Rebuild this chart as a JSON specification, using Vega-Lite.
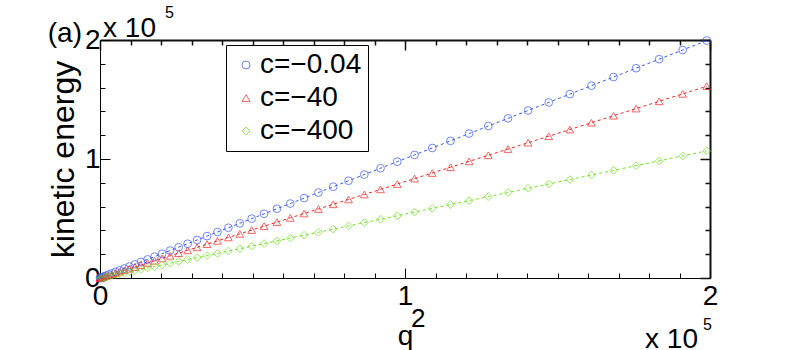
{
  "$schema": "https://vega.github.io/schema/vega-lite/v6.json",
  "width": 610,
  "height": 238,
  "autosize": "none",
  "padding": {"left": 100, "top": 40, "right": 79, "bottom": 72},
  "background": "white",
  "config": {
    "font": "Liberation Sans",
    "view": {"stroke": null},
    "axis": {
      "grid": false,
      "domainColor": "black",
      "domainWidth": 1,
      "tickColor": "black",
      "tickWidth": 1,
      "labelColor": "black",
      "labelFont": "Liberation Sans",
      "labelFontSize": 28,
      "titleFont": "Liberation Sans",
      "titleFontSize": 28,
      "titleFontWeight": "normal",
      "titleColor": "black",
      "labelFlush": false,
      "labelOverlap": false
    }
  },
  "datasets": {
    "ke": [
      {"q2": 0, "s1": 0, "s2": 0, "s3": 0},
      {"q2": 0.0008, "s1": 0.0008, "s2": 0.0006, "s3": 0.0004},
      {"q2": 0.0032, "s1": 0.0032, "s2": 0.0026, "s3": 0.0017},
      {"q2": 0.0072, "s1": 0.0072, "s2": 0.0058, "s3": 0.0039},
      {"q2": 0.0127, "s1": 0.0127, "s2": 0.0103, "s3": 0.0068},
      {"q2": 0.0199, "s1": 0.0200, "s2": 0.0161, "s3": 0.0107},
      {"q2": 0.0286, "s1": 0.0287, "s2": 0.0232, "s3": 0.0154},
      {"q2": 0.0390, "s1": 0.0391, "s2": 0.0316, "s3": 0.0209},
      {"q2": 0.0509, "s1": 0.0511, "s2": 0.0412, "s3": 0.0273},
      {"q2": 0.0645, "s1": 0.0647, "s2": 0.0522, "s3": 0.0346},
      {"q2": 0.0796, "s1": 0.0798, "s2": 0.0645, "s3": 0.0427},
      {"q2": 0.0963, "s1": 0.0966, "s2": 0.0780, "s3": 0.0517},
      {"q2": 0.1146, "s1": 0.1149, "s2": 0.0928, "s3": 0.0615},
      {"q2": 0.1345, "s1": 0.1349, "s2": 0.1089, "s3": 0.0722},
      {"q2": 0.1560, "s1": 0.1565, "s2": 0.1264, "s3": 0.0838},
      {"q2": 0.1790, "s1": 0.1795, "s2": 0.1450, "s3": 0.0961},
      {"q2": 0.2037, "s1": 0.2043, "s2": 0.1650, "s3": 0.1094},
      {"q2": 0.2300, "s1": 0.2307, "s2": 0.1863, "s3": 0.1235},
      {"q2": 0.2578, "s1": 0.2586, "s2": 0.2088, "s3": 0.1384},
      {"q2": 0.2872, "s1": 0.2881, "s2": 0.2326, "s3": 0.1542},
      {"q2": 0.3183, "s1": 0.3193, "s2": 0.2578, "s3": 0.1709},
      {"q2": 0.3509, "s1": 0.3520, "s2": 0.2842, "s3": 0.1884},
      {"q2": 0.3851, "s1": 0.3863, "s2": 0.3119, "s3": 0.2068},
      {"q2": 0.4209, "s1": 0.4222, "s2": 0.3409, "s3": 0.2260},
      {"q2": 0.4583, "s1": 0.4597, "s2": 0.3712, "s3": 0.2461},
      {"q2": 0.4973, "s1": 0.4988, "s2": 0.4028, "s3": 0.2671},
      {"q2": 0.5379, "s1": 0.5395, "s2": 0.4357, "s3": 0.2889},
      {"q2": 0.5801, "s1": 0.5818, "s2": 0.4699, "s3": 0.3115},
      {"q2": 0.6238, "s1": 0.6257, "s2": 0.5053, "s3": 0.3350},
      {"q2": 0.6692, "s1": 0.6712, "s2": 0.5421, "s3": 0.3594},
      {"q2": 0.7161, "s1": 0.7182, "s2": 0.5800, "s3": 0.3845},
      {"q2": 0.7647, "s1": 0.7670, "s2": 0.6194, "s3": 0.4106},
      {"q2": 0.8148, "s1": 0.8172, "s2": 0.6600, "s3": 0.4375},
      {"q2": 0.8665, "s1": 0.8691, "s2": 0.7019, "s3": 0.4653},
      {"q2": 0.9198, "s1": 0.9226, "s2": 0.7450, "s3": 0.4939},
      {"q2": 0.9747, "s1": 0.9776, "s2": 0.7895, "s3": 0.5234},
      {"q2": 1.0312, "s1": 1.0343, "s2": 0.8353, "s3": 0.5538},
      {"q2": 1.0893, "s1": 1.0926, "s2": 0.8823, "s3": 0.5850},
      {"q2": 1.1490, "s1": 1.1524, "s2": 0.9307, "s3": 0.6170},
      {"q2": 1.2103, "s1": 1.2139, "s2": 0.9803, "s3": 0.6499},
      {"q2": 1.2731, "s1": 1.2769, "s2": 1.0312, "s3": 0.6837},
      {"q2": 1.3376, "s1": 1.3416, "s2": 1.0835, "s3": 0.7183},
      {"q2": 1.4036, "s1": 1.4078, "s2": 1.1369, "s3": 0.7537},
      {"q2": 1.4713, "s1": 1.4757, "s2": 1.1918, "s3": 0.7901},
      {"q2": 1.5405, "s1": 1.5451, "s2": 1.2478, "s3": 0.8272},
      {"q2": 1.6113, "s1": 1.6161, "s2": 1.3052, "s3": 0.8653},
      {"q2": 1.6837, "s1": 1.6888, "s2": 1.3638, "s3": 0.9041},
      {"q2": 1.7577, "s1": 1.7630, "s2": 1.4237, "s3": 0.9439},
      {"q2": 1.8333, "s1": 1.8388, "s2": 1.4850, "s3": 0.9845},
      {"q2": 1.9105, "s1": 1.9162, "s2": 1.5475, "s3": 1.0259},
      {"q2": 1.9893, "s1": 1.9953, "s2": 1.6113, "s3": 1.0683}
    ],
    "one": [{"k": 1}]
  },
  "resolve": {"axis": {"x": "independent", "y": "independent"}},
  "layer": [
    {
      "data": {"name": "ke"},
      "transform": [{"fold": ["s1", "s2", "s3"], "as": ["series", "ke"]}],
      "mark": {"type": "line", "strokeDash": [3, 3], "strokeWidth": 1},
      "encoding": {
        "x": {
          "field": "q2", "type": "quantitative",
          "scale": {"domain": [0, 2], "nice": false, "zero": true},
          "axis": {
            "orient": "bottom",
            "values": [0, 0.1, 0.2, 0.3, 0.4, 0.5, 0.6, 0.7, 0.8, 0.9, 1, 1.1, 1.2, 1.3, 1.4, 1.5, 1.6, 1.7, 1.8, 1.9, 2],
            "labelExpr": "(datum.value == 0 || datum.value == 1 || datum.value == 2) ? format(datum.value, 'd') : ''",
            "tickSize": {"condition": {"test": "datum.value == 0 || datum.value == 1 || datum.value == 2", "value": -10}, "value": -5},
            "labelPadding": 14,
            "title": "q",
            "titlePadding": 7
          }
        },
        "y": {
          "field": "ke", "type": "quantitative",
          "scale": {"domain": [0, 2], "nice": false, "zero": true},
          "axis": {
            "orient": "left",
            "values": [0, 0.2, 0.4, 0.6, 0.8, 1, 1.2, 1.4, 1.6, 1.8, 2],
            "labelExpr": "(datum.value == 0 || datum.value == 1 || datum.value == 2) ? format(datum.value, 'd') : ''",
            "tickSize": {"condition": {"test": "datum.value == 0 || datum.value == 1 || datum.value == 2", "value": -10}, "value": -5},
            "labelPadding": 10,
            "title": "kinetic energy",
            "titleFontSize": 32,
            "titlePadding": 4
          }
        },
        "color": {
          "field": "series", "type": "nominal",
          "scale": {"domain": ["s1", "s2", "s3"], "range": ["#3355ff", "#ff2222", "#6ee81c"]}
        }
      }
    },
    {
      "data": {"name": "ke"},
      "transform": [{"fold": ["s1", "s2", "s3"], "as": ["series", "ke"]}],
      "mark": {"type": "point", "filled": false, "strokeWidth": 1, "size": 60},
      "encoding": {
        "x": {"field": "q2", "type": "quantitative", "axis": null},
        "y": {"field": "ke", "type": "quantitative", "axis": null},
        "color": {
          "field": "series", "type": "nominal",
          "legend": {
            "orient": "none",
            "legendX": 126,
            "legendY": 5,
            "title": null,
            "labelExpr": "datum.label == 's1' ? 'c=−0.04' : datum.label == 's2' ? 'c=−40' : 'c=−400'",
            "labelFont": "Liberation Sans",
            "labelFontSize": 28,
            "labelColor": "black",
            "labelOffset": 0,
            "symbolSize": 64,
            "symbolStrokeWidth": 1,
            "symbolFillColor": "transparent",
            "symbolDash": [],
            "strokeColor": "black",
            "fillColor": "white",
            "padding": 6,
            "rowPadding": 5,
            "cornerRadius": 0
          }
        },
        "shape": {
          "field": "series", "type": "nominal",
          "scale": {"domain": ["s1", "s2", "s3"], "range": ["circle", "triangle-up", "diamond"]},
          "legend": null
        }
      }
    },
    {
      "data": {"name": "ke"},
      "mark": {"type": "point", "opacity": 0},
      "encoding": {
        "x": {
          "field": "q2", "type": "quantitative",
          "axis": {
            "orient": "top",
            "values": [0, 0.1, 0.2, 0.3, 0.4, 0.5, 0.6, 0.7, 0.8, 0.9, 1, 1.1, 1.2, 1.3, 1.4, 1.5, 1.6, 1.7, 1.8, 1.9, 2],
            "labels": false,
            "domain": true,
            "domainColor": "#111111",
            "domainWidth": 2,
            "ticks": true,
            "tickColor": "#111111",
            "tickWidth": 1.5,
            "tickSize": {"condition": {"test": "datum.value == 0 || datum.value == 1 || datum.value == 2", "value": -10}, "value": -5},
            "title": null
          }
        },
        "y": {
          "field": "s1", "type": "quantitative",
          "axis": {
            "orient": "right",
            "values": [0, 0.2, 0.4, 0.6, 0.8, 1, 1.2, 1.4, 1.6, 1.8, 2],
            "labels": false,
            "domain": true,
            "domainColor": "#111111",
            "domainWidth": 2,
            "ticks": true,
            "tickColor": "#111111",
            "tickWidth": 1.5,
            "tickSize": {"condition": {"test": "datum.value == 0 || datum.value == 1 || datum.value == 2", "value": -10}, "value": -5},
            "title": null
          }
        }
      }
    },
    {
      "data": {"name": "one"},
      "mark": {"type": "text", "text": "(a)", "align": "right", "baseline": "alphabetic", "fontSize": 28, "font": "Liberation Sans", "color": "black"},
      "encoding": {"x": {"datum": -0.059, "type": "quantitative", "axis": null}, "y": {"datum": 1.983, "type": "quantitative", "axis": null}}
    },
    {
      "data": {"name": "one"},
      "mark": {"type": "text", "text": "x 10", "align": "left", "baseline": "alphabetic", "fontSize": 28, "font": "Liberation Sans", "color": "black"},
      "encoding": {"x": {"datum": 0.01, "type": "quantitative", "axis": null}, "y": {"datum": 2.025, "type": "quantitative", "axis": null}}
    },
    {
      "data": {"name": "one"},
      "mark": {"type": "text", "text": "5", "align": "left", "baseline": "alphabetic", "fontSize": 16, "font": "Liberation Sans", "color": "black"},
      "encoding": {"x": {"datum": 0.213, "type": "quantitative", "axis": null}, "y": {"datum": 2.185, "type": "quantitative", "axis": null}}
    },
    {
      "data": {"name": "one"},
      "mark": {"type": "text", "text": "x 10", "align": "left", "baseline": "alphabetic", "fontSize": 28, "font": "Liberation Sans", "color": "black"},
      "encoding": {"x": {"datum": 1.787, "type": "quantitative", "axis": null}, "y": {"datum": -0.588, "type": "quantitative", "axis": null}}
    },
    {
      "data": {"name": "one"},
      "mark": {"type": "text", "text": "5", "align": "left", "baseline": "alphabetic", "fontSize": 16, "font": "Liberation Sans", "color": "black"},
      "encoding": {"x": {"datum": 1.977, "type": "quantitative", "axis": null}, "y": {"datum": -0.437, "type": "quantitative", "axis": null}}
    },
    {
      "data": {"name": "one"},
      "mark": {"type": "text", "text": "2", "align": "left", "baseline": "alphabetic", "fontSize": 26, "font": "Liberation Sans", "color": "black"},
      "encoding": {"x": {"datum": 1.02, "type": "quantitative", "axis": null}, "y": {"datum": -0.412, "type": "quantitative", "axis": null}}
    }
  ]
}
